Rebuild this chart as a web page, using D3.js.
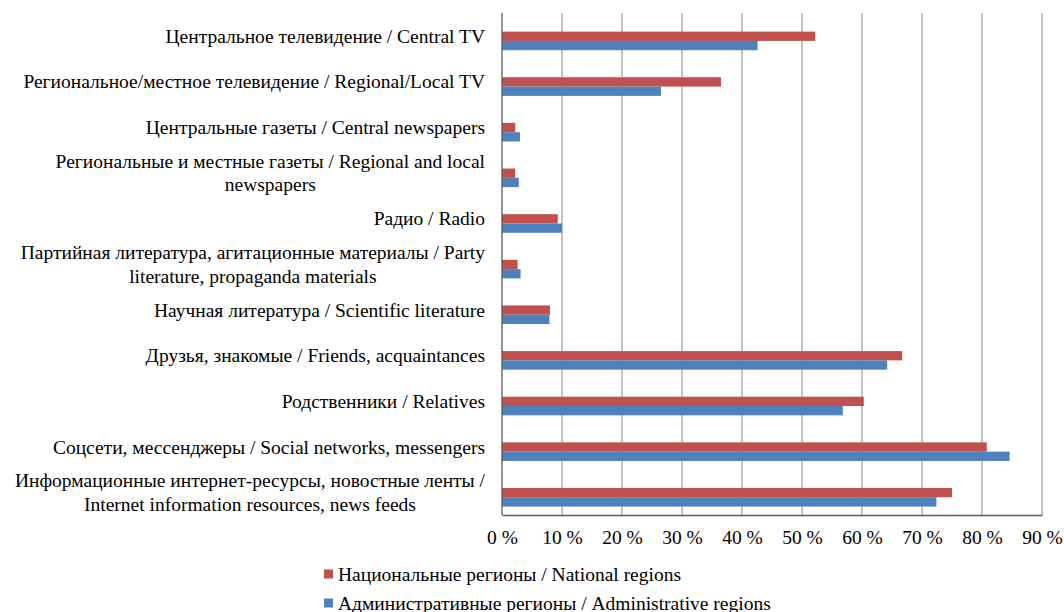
<!DOCTYPE html>
<html>
<head>
<meta charset="utf-8">
<script src="https://cdn.jsdelivr.net/npm/d3@7"></script>
<style>
  html, body { margin: 0; padding: 0; background: #fff; }
</style>
</head>
<body>
<div id="vis"></div>
<script>
// categories, top to bottom ("\n" = line break in label)
var categories = [
  "Центральное телевидение / Central TV",
  "Региональное/местное телевидение / Regional/Local TV",
  "Центральные газеты / Central newspapers",
  "Региональные и местные газеты / Regional and local\nnewspapers",
  "Радио / Radio",
  "Партийная литература, агитационные материалы / Party\nliterature, propaganda materials",
  "Научная литература / Scientific literature",
  "Друзья, знакомые / Friends, acquaintances",
  "Родственники / Relatives",
  "Соцсети, мессенджеры / Social networks, messengers",
  "Информационные интернет-ресурсы, новостные ленты /\nInternet information resources, news feeds"
];
var national =       [52.2, 36.5, 2.2, 2.2, 9.3, 2.6, 8.0, 66.7, 60.3, 80.8, 75.0];
var administrative = [42.6, 26.5, 3.0, 2.8, 10.0, 3.1, 7.9, 64.2, 56.8, 84.6, 72.4];
var seriesNames = ["Национальные регионы / National regions", "Административные регионы / Administrative regions"];
var seriesColors = ["#C0504D", "#4F81BD"];
var ticks = [0, 10, 20, 30, 40, 50, 60, 70, 80, 90];

var width = 1064, height = 612;
var margin = { top: 13, right: 22, bottom: 97, left: 502 };
var innerW = width - margin.left - margin.right,
    innerH = height - margin.top - margin.bottom;
var fontFam = "Liberation Serif";
var fontSize = 19.5;

var svg = d3.select("#vis").append("svg")
    .attr("width", width)
    .attr("height", height);

var g = svg.append("g")
    .attr("transform", "translate(" + margin.left + "," + margin.top + ")");

var x = d3.scaleLinear().domain([0, 90]).range([0, innerW]);
var y = d3.scaleBand().domain(categories).range([0, innerH]);

// gridlines
g.append("g")
    .selectAll("line")
    .data(ticks.slice(1))
    .enter()
    .append("line")
    .attr("x1", function (d) { return x(d); })
    .attr("x2", function (d) { return x(d); })
    .attr("y1", 0)
    .attr("y2", innerH)
    .attr("stroke", "#868686")
    .attr("stroke-width", 1);

// bars
var barH = 9.3;
g.selectAll("rect.nat")
    .data(national)
    .enter()
    .append("rect")
    .attr("class", "nat")
    .attr("x", x(0))
    .attr("y", function (d, i) { return y(categories[i]) + y.bandwidth() / 2 - 4.2; })
    .attr("width", function (d) { return x(d) - x(0); })
    .attr("height", barH)
    .attr("fill", seriesColors[0]);

g.selectAll("rect.adm")
    .data(administrative)
    .enter()
    .append("rect")
    .attr("class", "adm")
    .attr("x", x(0))
    .attr("y", function (d, i) { return y(categories[i]) + y.bandwidth() / 2 + 5.1; })
    .attr("width", function (d) { return x(d) - x(0); })
    .attr("height", barH)
    .attr("fill", seriesColors[1]);

// x axis
var xAxis = g.append("g")
    .attr("transform", "translate(0," + innerH + ")")
    .call(d3.axisBottom(x).tickValues(ticks).tickSize(0).tickPadding(15)
        .tickFormat(function (d) { return d + "\u00a0%"; }));
xAxis.attr("font-family", null).attr("font-size", null);
xAxis.select("path.domain").attr("stroke", "#5a5a5a").attr("stroke-width", 1.3);
xAxis.selectAll("text")
    .attr("fill", "#000")
    .attr("font-family", fontFam)
    .attr("font-size", fontSize);

// y axis line
g.append("line")
    .attr("x1", 0).attr("x2", 0)
    .attr("y1", 0).attr("y2", innerH)
    .attr("stroke", "#5a5a5a")
    .attr("stroke-width", 1.3);

// category labels: block right-aligned, lines centred within block
var labelRight = margin.left - 17;
var lineH = 23.5;
var labels = svg.append("g");
categories.forEach(function (c) {
    var lines = c.split("\n");
    var t = labels.append("text")
        .attr("font-family", fontFam)
        .attr("font-size", fontSize)
        .attr("fill", "#000")
        .attr("dominant-baseline", "central");
    var cy = margin.top + y(c) + y.bandwidth() / 2;
    lines.forEach(function (l, j) {
        t.append("tspan").text(l)
            .attr("y", cy + (j - (lines.length - 1) / 2) * lineH);
    });
    var tsp = t.selectAll("tspan").nodes();
    var maxW = d3.max(tsp, function (n) { return n.getComputedTextLength(); });
    var cx = labelRight - maxW / 2;
    t.selectAll("tspan").attr("x", cx).attr("text-anchor", "middle");
});

// legend
var legend = svg.append("g");
seriesNames.forEach(function (s, i) {
    var ly = 574 + i * 29;
    legend.append("rect")
        .attr("x", 324).attr("y", ly - 4.5)
        .attr("width", 9).attr("height", 9)
        .attr("fill", seriesColors[i]);
    legend.append("text")
        .attr("x", 338).attr("y", ly)
        .attr("dominant-baseline", "central")
        .attr("font-family", fontFam)
        .attr("font-size", fontSize)
        .attr("fill", "#000")
        .text(s);
});
</script>
</body>
</html>
